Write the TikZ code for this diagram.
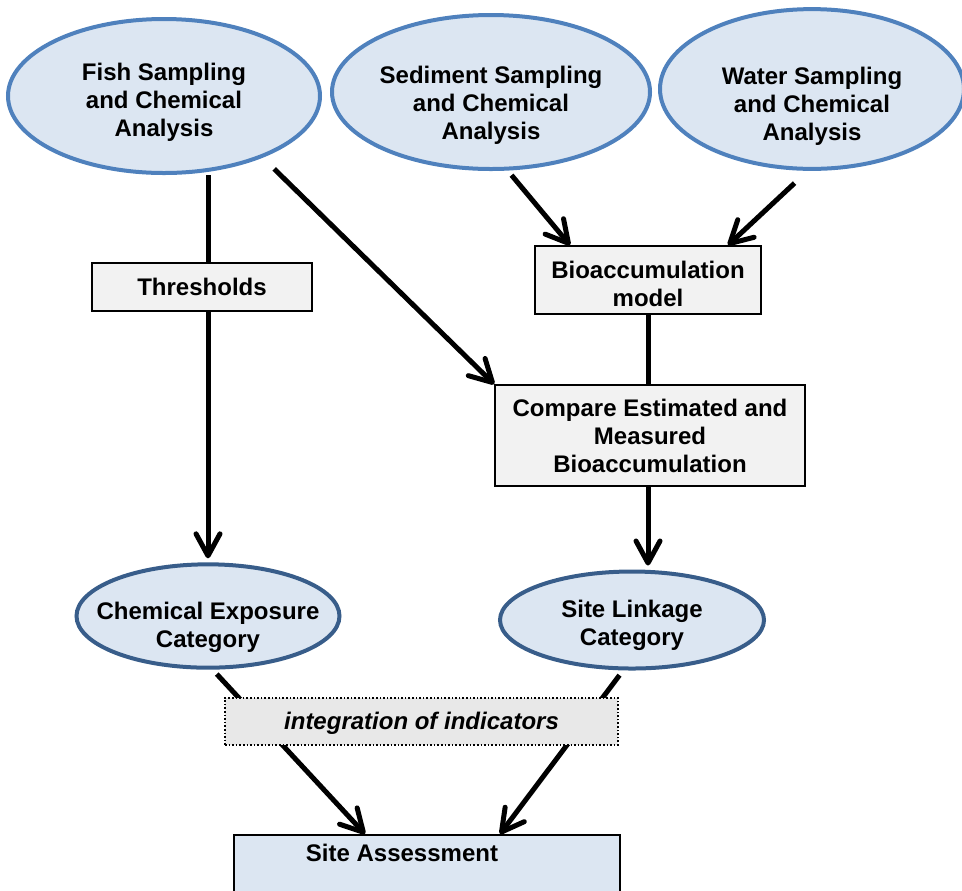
\documentclass[tikz,border=0pt]{standalone}
\usepackage{fontspec}
\setmainfont{Liberation Sans}
\usetikzlibrary{shapes.geometric, arrows.meta, calc}
\definecolor{cellfill}{HTML}{DCE6F2}
\definecolor{topedge}{HTML}{4F81BD}
\definecolor{lowedge}{HTML}{385D8A}
\definecolor{boxfill}{HTML}{F2F2F2}
\definecolor{intfill}{HTML}{E8E8E8}
\newcommand{\padtop}[1]{\rule{0pt}{#1}}
\newcommand{\slim}[1]{\makebox[0pt]{#1}}

\begin{document}
\begin{tikzpicture}[
        x=0.5pt,
        y=-0.5pt,
        every node/.style={font=\bfseries\fontsize{12}{14}\selectfont, align=center, inner sep=0pt},
        source/.style={ellipse, draw=topedge, line width=2pt, fill=cellfill, minimum width=156pt, minimum height=77pt},
        category/.style={ellipse, draw=lowedge, line width=2pt, fill=cellfill, minimum width=131.5pt, minimum height=48.5pt},
        process/.style={rectangle, draw, line width=0.8pt, fill=boxfill},
        wire/.style={line width=2.5pt},
        flow/.style={wire, -{Straight Barb[length=11pt, width=12pt, round]}}
    ]
    \path[use as bounding box, clip] (0,0) rectangle (962,890);

    \node[source] (fish) at (164,96) {\padtop{15pt}Fish Sampling\\and Chemical\\Analysis};
    \node[source, minimum width=159pt] (sed) at (491,92) {\padtop{22pt}Sediment Sampling\\and Chemical\\Analysis};
    \node[source, minimum width=152pt, minimum height=79pt] (water) at (812,89) {\padtop{26pt}Water Sampling\\and Chemical\\Analysis};

    \node[process, minimum width=110pt, minimum height=24pt] (thr) at (202,287) {Thresholds};
    \node[process, minimum width=113pt, minimum height=34pt] (bio) at (648,280) {\padtop{13pt}Bioaccumulation\\model};
    \node[process, minimum width=155pt, minimum height=50.5pt] (comp) at (650,435.5) {Compare Estimated and\\Measured\\Bioaccumulation};

    \node[category] (chem) at (208,616) {\padtop{20pt}\slim{Chemical Exposure}\\\slim{Category}};
    \node[category, minimum width=132pt] (linkage) at (632,620) {\padtop{14pt}\slim{Site Linkage}\\\slim{Category}};

    \node[process, fill=cellfill, minimum width=193pt, minimum height=60pt, anchor=north] (assess) at (427,834) {};
    \node (assesstext) at (402,853) {Site Assessment};

    \draw[wire] (fish.south -| chem.north) -- (thr.north -| chem.north);
    \draw[flow, shorten >=2pt] (thr.south -| chem.north) -- (chem.north);
    \draw[flow, shorten <=8pt] (fish.-32) -- (comp.north west);
    \draw[flow, shorten <=3pt] (sed.-78) -- ($(bio.north)+(-78,0)$);
    \draw[flow, shorten <=9pt] (water.-93) -- ($(bio.north)+(80,0)$);
    \draw[wire] (bio.south) -- (bio.south |- comp.north);
    \draw[flow, shorten >=2pt] (bio.south |- comp.south) -- (bio.south |- linkage.north);
    \draw[flow, shorten <=3pt] (chem.-85) -- ($(assess.north)+(-62,0)$);
    \draw[flow, shorten <=3pt] (linkage.-100) -- ($(assess.north)+(73,0)$);

    \node[process, densely dotted, fill=intfill, minimum width=196.5pt, minimum height=23.5pt, font=\bfseries\itshape\fontsize{12}{14}\selectfont] (integ) at (421.5,721.5) {\padtop{10.5pt}integration of indicators};
\end{tikzpicture}
\end{document}
